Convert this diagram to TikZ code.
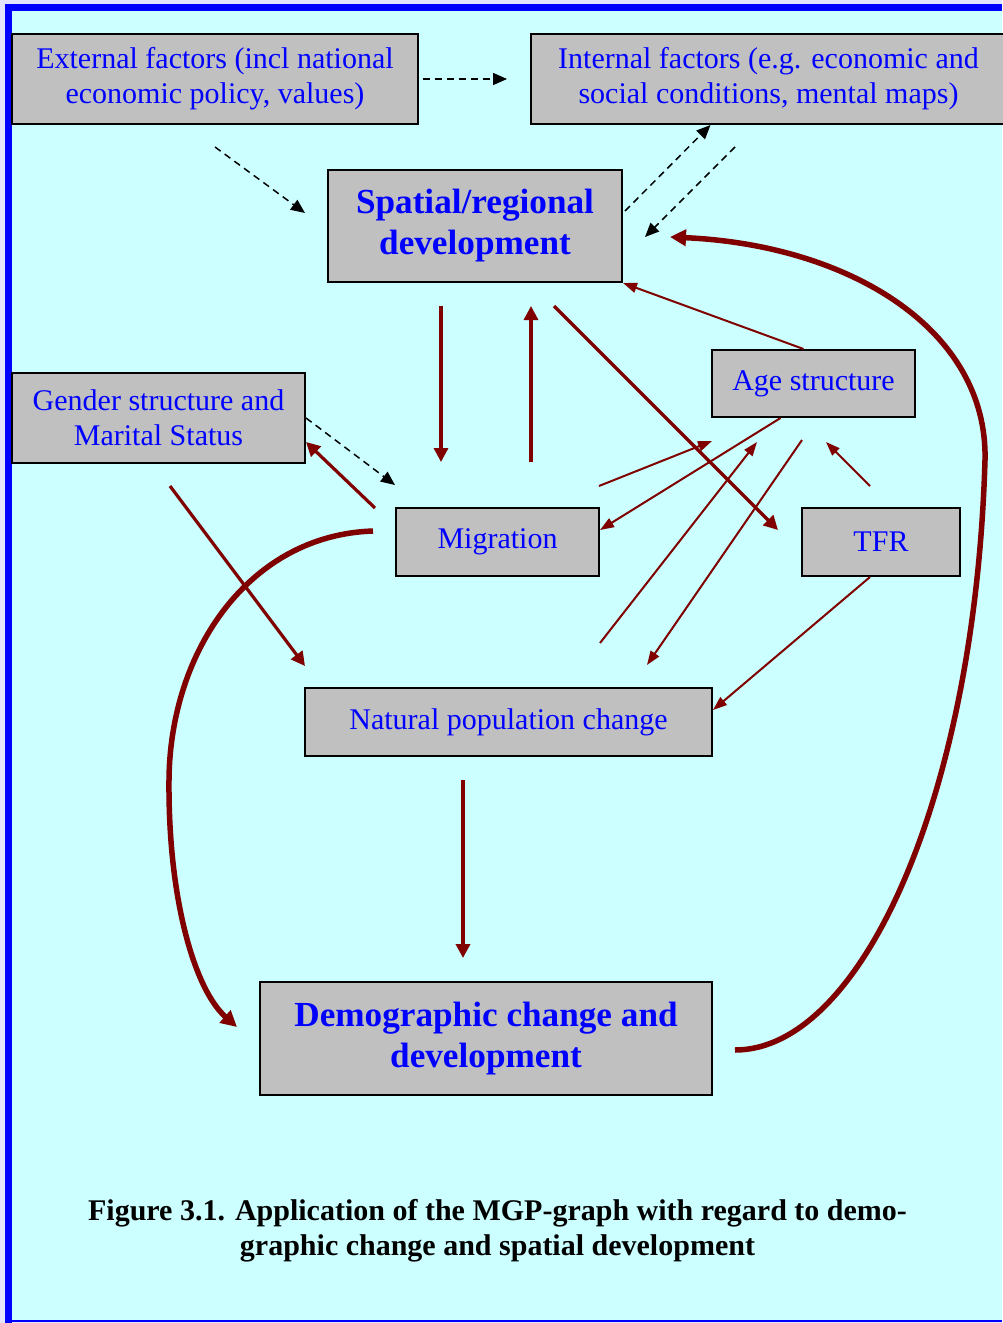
\documentclass[tikz,border=0pt]{standalone}
\usepackage{fontspec}
\setmainfont{Liberation Serif}
\usetikzlibrary{arrows.meta, positioning, calc}
\definecolor{bgcyan}{HTML}{CCFFFF}
\definecolor{boxgray}{HTML}{C0C0C0}
\definecolor{txtblue}{HTML}{0000FF}
\definecolor{arrred}{HTML}{800000}
\definecolor{edgepale}{HTML}{E4E4FF}

\begin{document}
\begin{tikzpicture}[x=0.5pt, y=-0.5pt,
  every node/.style={font=\fontsize{15}{17.5}\selectfont},
  factor/.style={rectangle, draw=black, line width=1pt, fill=boxgray, text=txtblue, align=center, inner sep=0pt},
  mainbox/.style={factor, font=\fontsize{17.6}{20.5}\selectfont\bfseries},
  dasharrow/.style={-{Triangle[length=7pt, width=6pt]}, dash pattern=on 3.5pt off 2.5pt, line width=0.75pt, black},
  thinlink/.style={-{Triangle[length=7pt, width=5pt]}, line width=1pt, arrred},
  redlink/.style={-{Triangle[length=7pt, width=7pt]}, line width=1.6pt, arrred},
  feedback/.style={-{Triangle[length=8pt, width=8pt]}, line width=2.75pt, arrred},
]
\useasboundingbox (0,0) rectangle (1002,1323);

% Frame
\fill[edgepale] (0,0) rectangle (1002,1323);
\fill[bgcyan] (5,4) rectangle (1002,1322);
\draw[txtblue, line width=3.5pt] (8.5,1323) -- (8.5,7.5) -- (1002,7.5);
\draw[txtblue, line width=1pt] (8.5,1321) -- (1002,1321);

% Factors
\node[factor, minimum width=203pt, minimum height=45pt] (ext) at (215,79) {External factors (incl national\\economic policy, values)};
\node[factor, minimum width=237.5pt, minimum height=45pt] (int) at (768.5,79) {Internal factors (e.g. economic and\\social conditions, mental maps)};
\node[mainbox, minimum width=147pt, minimum height=56pt] (spat) at (475,226) {Spatial/regional\\development};
\node[factor, minimum width=146.5pt, minimum height=45pt] (gend) at (158.5,418) {Gender structure and\\Marital Status};
\node[factor, minimum width=101.5pt, minimum height=33.5pt] (age) at (813.5,383.5) {Age structure};
\node[factor, minimum width=101.5pt, minimum height=34pt] (mig) at (497.5,542) {Migration};
\node[factor, minimum width=79pt, minimum height=34pt] (tfr) at (881,542) {TFR};
\node[factor, minimum width=203.5pt, minimum height=34pt] (nat) at (508.5,722) {Natural population change};
\node[mainbox, minimum width=226pt, minimum height=56.5pt] (dem) at (486,1038.5) {Demographic change and\\development};

% Caption
\node[font=\fontsize{15}{17.5}\selectfont\bfseries, align=center] (cap) at (497.5,1231) {Figure 3.1. Application of the MGP-graph with regard to demo-\\graphic change and spatial development};

% Free ends of connectors
\coordinate (extOut) at (215,147);
\coordinate (spatIn) at (305,213);
\coordinate (spatUp) at (625,211);
\coordinate (intOut) at (735,147);
\coordinate (spatDash) at (645,237);
\coordinate (migDash) at (395,485);
\coordinate (spatDownA) at (441,306);
\coordinate (migTopA) at (441,462);
\coordinate (migTopB) at (531,462);
\coordinate (spatDownB) at (531,306);
\coordinate (spatTfr) at (554,306);
\coordinate (tfrIn) at (778,530);
\coordinate (migGend) at (375,508);
\coordinate (gendOut) at (170,486);
\coordinate (natIn) at (305,666);
\coordinate (migAge) at (599,486);
\coordinate (ageInA) at (712,441);
\coordinate (natAge) at (600,643);
\coordinate (ageInB) at (757,442);
\coordinate (ageNat) at (802,440);
\coordinate (natInB) at (647,665);
\coordinate (tfrAge) at (870,486);
\coordinate (ageInC) at (826,442);
\coordinate (natOut) at (463,780);
\coordinate (demIn) at (463,958);
\coordinate (migLoop) at (373,531);
\coordinate (demLoop) at (237,1027);
\coordinate (demOut) at (735,1050);
\coordinate (spatLoop) at (670,237);

% Dashed links
\draw[dasharrow] ([xshift=2pt]ext.east) -- ([xshift=-11.5pt]int.west);
\draw[dasharrow] (extOut) -- (spatIn);
\draw[dasharrow] (spatUp) -- ([xshift=-29pt]int.south);
\draw[dasharrow] (intOut) -- (spatDash);
\draw[dasharrow] (gend.east) -- (migDash);

% Red links
\draw[redlink] (spatDownA) -- (migTopA);
\draw[redlink] (migTopB) -- (spatDownB);
\draw[redlink] (spatTfr) -- (tfrIn);
\draw[redlink] (migGend) -- ([yshift=-12pt]gend.east);
\draw[redlink] (gendOut) -- (natIn);
\draw[redlink, line width=2pt] (natOut) -- (demIn);
\draw[thinlink] ([xshift=-5pt]age.north) -- (spat.south east);
\draw[thinlink] (migAge) -- (ageInA);
\draw[thinlink] ([xshift=-16.5pt]age.south) -- ([yshift=6pt]mig.east);
\draw[thinlink] (natAge) -- (ageInB);
\draw[thinlink] (ageNat) -- (natInB);
\draw[thinlink] (tfrAge) -- (ageInC);
\draw[thinlink] ([xshift=-5.5pt]tfr.south) -- ([yshift=6pt]nat.east);

% Feedback loops
\draw[feedback] (migLoop) .. controls (250,535) and (170,650) .. (169,780)
  .. controls (168,900) and (195,990) .. (demLoop);
\draw[feedback] (demOut) .. controls (860,1050) and (975,800) .. (985,460)
  .. controls (988,330) and (850,245) .. (spatLoop);

\end{tikzpicture}
\end{document}
